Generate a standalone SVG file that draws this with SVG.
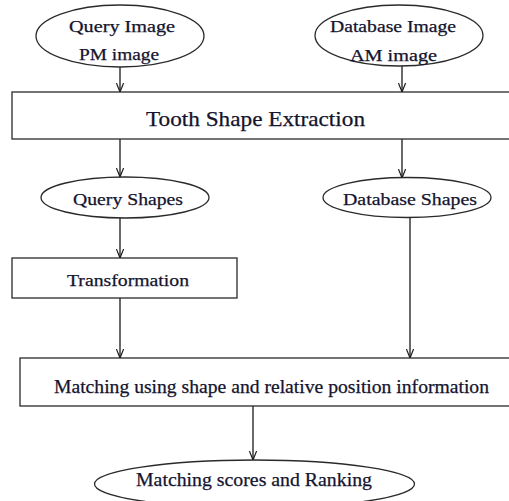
<svg xmlns="http://www.w3.org/2000/svg" width="509" height="501" viewBox="0 0 509 501">
  <style>
    .shape { fill: #ffffff; stroke: #2a2a2a; stroke-width: 1.3; }
    .lbl { font-family: "Liberation Serif", "Times New Roman", serif; fill: #14142e; stroke: #14142e; stroke-width: 0.25; text-anchor: start; }
    .edge { fill: none; stroke: #1a1a1a; stroke-width: 1.3; }
  </style>
  <defs>
    <marker id="head" viewBox="0 0 10 10" refX="10" refY="5" markerWidth="9" markerHeight="9" markerUnits="userSpaceOnUse" orient="auto">
      <path d="M0,1 L10,5 L0,9" fill="none" stroke="#1a1a1a" stroke-width="1.3"/>
    </marker>
  </defs>
  <rect width="509" height="501" fill="#ffffff"/>

  <!-- connectors -->
  <g id="connectors" class="edge">
    <line x1="120" y1="67" x2="120" y2="92" marker-end="url(#head)"/>
    <line x1="402" y1="66" x2="402" y2="92" marker-end="url(#head)"/>
    <line x1="120" y1="139" x2="120" y2="177" marker-end="url(#head)"/>
    <line x1="402" y1="139" x2="402" y2="178" marker-end="url(#head)"/>
    <line x1="120" y1="218" x2="120" y2="258" marker-end="url(#head)"/>
    <line x1="410" y1="217" x2="410" y2="358" marker-end="url(#head)"/>
    <line x1="120" y1="298" x2="120" y2="358" marker-end="url(#head)"/>
    <line x1="253" y1="406" x2="253" y2="460" marker-end="url(#head)"/>
  </g>

  <g id="query-image">
    <ellipse class="shape" cx="120" cy="36" rx="84" ry="31"/>
    <text class="lbl" x="69" y="32" font-size="16" textLength="106" lengthAdjust="spacingAndGlyphs">Query Image</text>
    <text class="lbl" x="79" y="60" font-size="16" textLength="80" lengthAdjust="spacingAndGlyphs">PM image</text>
  </g>

  <g id="database-image">
    <ellipse class="shape" cx="399" cy="35.5" rx="84" ry="30.5"/>
    <text class="lbl" x="330" y="32" font-size="16" textLength="126" lengthAdjust="spacingAndGlyphs">Database Image</text>
    <text class="lbl" x="350" y="61" font-size="16" textLength="87" lengthAdjust="spacingAndGlyphs">AM image</text>
  </g>

  <g id="tooth-shape-extraction">
    <rect class="shape" x="12" y="92" width="520" height="47"/>
    <text class="lbl" x="146" y="126" font-size="21" textLength="219" lengthAdjust="spacingAndGlyphs">Tooth Shape Extraction</text>
  </g>

  <g id="query-shapes">
    <ellipse class="shape" cx="125" cy="197.5" rx="84" ry="20.5"/>
    <text class="lbl" x="73" y="205" font-size="17.5" textLength="110" lengthAdjust="spacingAndGlyphs">Query Shapes</text>
  </g>

  <g id="database-shapes">
    <ellipse class="shape" cx="407" cy="197.5" rx="84" ry="20"/>
    <text class="lbl" x="343" y="205" font-size="17.5" textLength="134" lengthAdjust="spacingAndGlyphs">Database Shapes</text>
  </g>

  <g id="transformation">
    <rect class="shape" x="12" y="258" width="225" height="40"/>
    <text class="lbl" x="67" y="286" font-size="16.5" textLength="122" lengthAdjust="spacingAndGlyphs">Transformation</text>
  </g>

  <g id="matching">
    <rect class="shape" x="20" y="358" width="512" height="48"/>
    <text class="lbl" x="54" y="393" font-size="18" textLength="435" lengthAdjust="spacingAndGlyphs">Matching using shape and relative position information</text>
  </g>

  <g id="scores-ranking">
    <ellipse class="shape" cx="254.5" cy="484" rx="160" ry="24"/>
    <text class="lbl" x="136" y="486" font-size="18.5" textLength="236" lengthAdjust="spacingAndGlyphs">Matching scores and Ranking</text>
  </g>
</svg>
